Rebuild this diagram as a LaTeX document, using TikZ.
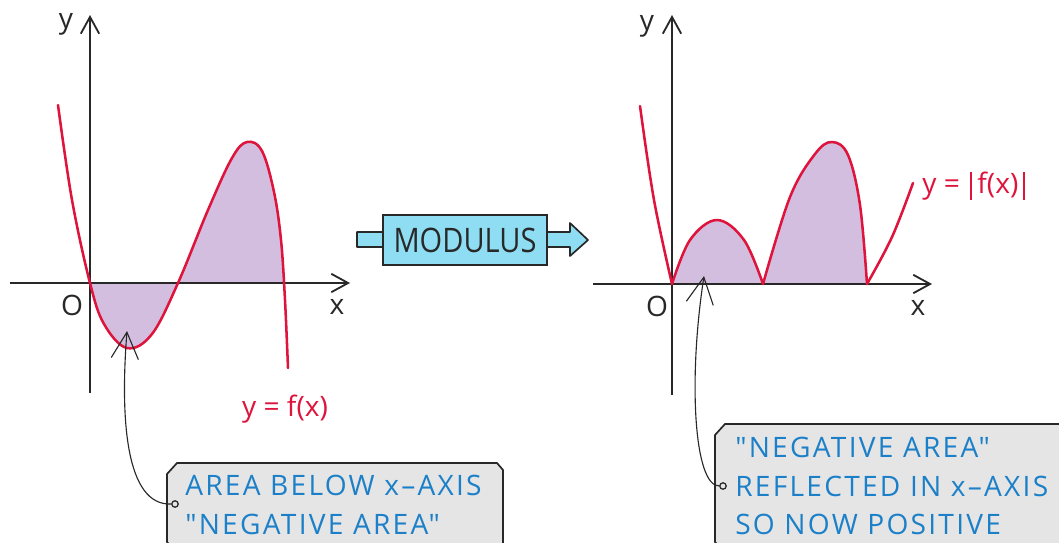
\documentclass[tikz,border=0pt]{standalone}
\usepackage{fontspec}
\setmainfont{Open Sans}
\newfontfamily\notefont[LetterSpace=8]{Open Sans}
\newfontfamily\modfont[FakeStretch=0.86]{Open Sans}
\usetikzlibrary{arrows.meta, positioning, calc}
\definecolor{modRed}{RGB}{222,20,60}
\definecolor{modLilac}{RGB}{212,190,224}
\definecolor{modBlue}{RGB}{28,128,200}
\definecolor{modGrey}{RGB}{229,229,230}
\definecolor{modCyan}{RGB}{142,221,242}
\definecolor{modInk}{RGB}{40,40,40}
% hand drawn curves, in pixel coordinates
\newcommand{\fcurve}{plot[smooth, tension=0.6] coordinates {(58,105) (72,200) (90,283) (104,324) (127,348) (152,334) (178,283) (208,210) (232,158) (247,142) (262,151) (274,192) (281,240) (285,300) (288,368)}}
\newcommand{\absbar}{\rule[-5pt]{1.5pt}{20pt}}

\begin{document}
\begin{tikzpicture}[x=0.025cm, y=-0.025cm,
    axis/.style={draw=modInk, line width=1.3pt, -{Straight Barb[length=0.42cm, width=0.46cm, line width=1.3pt]}},
    curve/.style={draw=modRed, line width=1.8pt, line join=round, line cap=round},
    lbl/.style={font=\fontsize{20}{24}\selectfont, text=modInk, inner sep=0pt},
    fxlbl/.style={font=\fontsize{20}{24}\selectfont, text=modRed, inner sep=0pt},
    note/.style={draw=modInk, line width=1.2pt, fill=modGrey},
    notetext/.style={font=\notefont\fontsize{20}{27.5}\selectfont, text=modBlue, align=left, inner sep=0pt, anchor=west},
    pindot/.style={circle, draw=modInk, fill=modGrey, line width=0.9pt, minimum size=0.16cm, inner sep=0pt},
    pointer/.style={draw=modInk, line width=0.8pt, -{Straight Barb[length=0.66cm, width=0.68cm, line width=0.8pt]}},
    modbox/.style={draw=modInk, line width=1.2pt, fill=modCyan, minimum width=4.1cm, minimum height=1.25cm,
      font=\modfont\fontsize{24}{26}\selectfont, text=modInk}
  ]
  \useasboundingbox (0,0) rectangle (1059,542);

  % left graph: y = f(x)
  \begin{scope}
    \clip (90,0) rectangle (284.5,542);
    \fill[modLilac] \fcurve -- (288,283) -- (58,283) -- cycle;
  \end{scope}
  \coordinate (lxs) at (10,283);
  \coordinate (lxe) at (350,283);
  \coordinate (lys) at (90,393);
  \coordinate (lye) at (90,15);
  \draw[axis] (lxs) -- (lxe);
  \draw[axis] (lys) -- (lye);
  \draw[curve] \fcurve;
  \node[lbl] (ly) at (66,24) {y};
  \node[lbl] (lo) at (72,305) {O};
  \node[lbl] (lx) at (337,307) {x};
  \node[fxlbl] (lf) at (285,409) {y = f(x)};

  % right graph: y = |f(x)|
  \fill[modLilac] plot[smooth, tension=0.6] coordinates {(672,284) (690,240) (717,220) (744,240) (763,284)} -- cycle;
  \fill[modLilac] plot[smooth, tension=0.6] coordinates {(763,284) (790,197) (815,154) (832,142) (848,155) (860,205) (867,284)} -- cycle;
  \coordinate (rxs) at (593,284);
  \coordinate (rxe) at (932,284);
  \coordinate (rys) at (672,395);
  \coordinate (rye) at (672,15);
  \draw[axis] (rxs) -- (rxe);
  \draw[axis] (rys) -- (rye);
  \draw[curve] plot[smooth, tension=0.6] coordinates {(640,106) (654,200) (672,284)};
  \draw[curve] plot[smooth, tension=0.6] coordinates {(672,284) (690,240) (717,220) (744,240) (763,284)};
  \draw[curve] plot[smooth, tension=0.6] coordinates {(763,284) (790,197) (815,154) (832,142) (848,155) (860,205) (867,284)};
  \draw[curve] plot[smooth, tension=0.6] coordinates {(867,284) (892,237) (913,183)};
  \node[lbl] (ry) at (647,26) {y};
  \node[lbl] (ro) at (657,306) {O};
  \node[lbl] (rx) at (918,308) {x};
  \node[fxlbl, anchor=west] (rf) at (922,186) {y =\kern7pt\absbar\kern4pt f(x)\kern3pt\absbar};

  % modulus arrow
  \filldraw[draw=modInk, line width=1.2pt, fill=modCyan, line join=round]
    (357,232) -- (570,232) -- (570,223) -- (588,240) -- (570,256) -- (570,247) -- (357,247) -- cycle;
  \node[modbox] (mod) at (465,240) {MODULUS};

  % callouts
  \draw[note] (167,474) -- (177,463) -- (497,463) -- (503,470) -- (503,552) -- (177,552) -- (167,542) -- cycle;
  \node[notetext] (lnote) at (185,505) {AREA BELOW x–AXIS\\"NEGATIVE AREA"};
  \draw[note] (715,435) -- (725,424) -- (1075,424) -- (1075,552) -- (725,552) -- (715,542) -- cycle;
  \node[notetext] (rnote) at (735,486) {"NEGATIVE AREA"\\REFLECTED IN x–AXIS\\SO NOW POSITIVE};

  % pointers
  \coordinate (ltip) at (127,331);
  \coordinate (rtip) at (704,276);
  \node[pindot] (ldot) at (175,504) {};
  \node[pindot] (rdot) at (723,486) {};
  \draw[pointer] (ldot.west) .. controls (126,506) and (120,420) .. (ltip);
  \draw[pointer] (rdot.west) .. controls (694,486) and (688,380) .. (rtip);
\end{tikzpicture}
\end{document}
